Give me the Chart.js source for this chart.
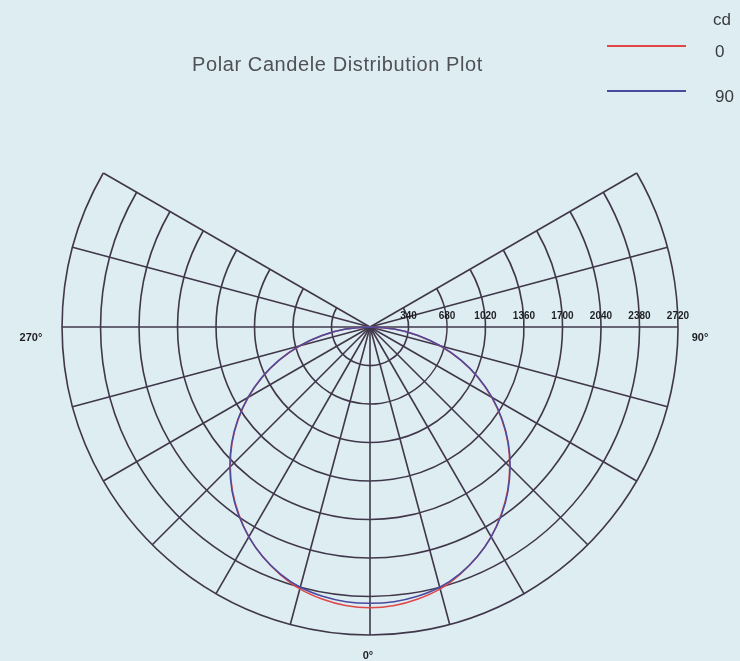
<!DOCTYPE html>
<html lang="en">
<head>
    <meta charset="UTF-8">
    <title>Polar Candele Distribution Plot</title>
    <script src="https://cdn.jsdelivr.net/npm/chart.js@4.4.1/dist/chart.umd.min.js"></script>
    <style>
        body { margin: 0; background: #ddedf2; }
        #wrap { width: 740px; height: 661px; }
    </style>
</head>
<body>
    <div id="wrap">
        <canvas id="myChart" width="740" height="661"></canvas>
    </div>
    <script>
        // gamma angles (deg from nadir) and candela values
        var v_angles = [0, 5, 10, 15, 20, 25, 30, 35, 40, 45, 50, 55, 60, 65, 70, 75, 80, 85, 90];
        var v_cd0  = [2480, 2470, 2440, 2395, 2325, 2240, 2140, 2020, 1890, 1745, 1590, 1420, 1240, 1050, 850, 640, 430, 215, 0];
        var v_cd90 = [2440, 2435, 2415, 2380, 2320, 2240, 2140, 2025, 1895, 1750, 1595, 1425, 1245, 1055, 855, 645, 430, 215, 0];

        // grid
        var v_rings = [340, 680, 1020, 1360, 1700, 2040, 2380, 2720];
        var v_ringLabels = ["340", "680", "1020", "1360", "1700", "2040", "2380", "2720"];
        var v_spokes = [-120, -105, -90, -75, -60, -45, -30, -15, 0, 15, 30, 45, 60, 75, 90, 105, 120];
        var v_axisLabels = ["270°", "90°", "0°"];

        var v_title = "Polar Candele Distribution Plot";
        var v_legend = [{ t: "0", c: "#e04848" }, { t: "90", c: "#4a4a9e" }];

        // polar -> x/y in cd units (other side mirrored)
        var f_points = function(p_vals){
            var v_pts = [];
            for(var i = v_angles.length - 1; i > 0; i--){
                var a = -v_angles[i] * Math.PI / 180;
                v_pts.push({ x: p_vals[i] * Math.sin(a), y: -p_vals[i] * Math.cos(a) });
            }
            for(var j = 0; j < v_angles.length; j++){
                var b = v_angles[j] * Math.PI / 180;
                v_pts.push({ x: p_vals[j] * Math.sin(b), y: -p_vals[j] * Math.cos(b) });
            }
            return v_pts;
        };

        var gridPlugin = {
            id: "polarGrid",
            beforeDraw: function(chart){
                var ctx = chart.ctx;
                ctx.save();
                ctx.fillStyle = "#ddedf2";
                ctx.fillRect(0, 0, chart.width, chart.height);
                ctx.restore();
            },
            beforeDatasetsDraw: function(chart){
                var ctx = chart.ctx;
                var xs = chart.scales.x, ys = chart.scales.y;
                var cx = xs.getPixelForValue(0), cy = ys.getPixelForValue(0);
                var rMax = xs.getPixelForValue(v_rings[v_rings.length - 1]) - cx;
                ctx.save();
                ctx.strokeStyle = "#41374a";
                ctx.lineWidth = 1.6;
                // rings (arc between -120 and 120)
                v_rings.forEach(function(v){
                    var r = xs.getPixelForValue(v) - cx;
                    ctx.beginPath();
                    ctx.arc(cx, cy, r, -30 * Math.PI / 180, 210 * Math.PI / 180);
                    ctx.stroke();
                });
                // spokes
                v_spokes.forEach(function(a){
                    var rad = a * Math.PI / 180;
                    ctx.beginPath();
                    ctx.moveTo(cx, cy);
                    ctx.lineTo(cx + rMax * Math.sin(rad), cy + rMax * Math.cos(rad));
                    ctx.stroke();
                });
                ctx.restore();
            },
            afterDraw: function(chart){
                var ctx = chart.ctx;
                var xs = chart.scales.x, ys = chart.scales.y;
                var cx = xs.getPixelForValue(0), cy = ys.getPixelForValue(0);
                ctx.save();
                // ring values
                ctx.fillStyle = "#1e1e22";
                ctx.font = "bold 10px 'Liberation Sans Narrow', 'Liberation Sans', Arial";
                ctx.textAlign = "center";
                v_rings.forEach(function(v, i){
                    ctx.fillText(v_ringLabels[i], xs.getPixelForValue(v), cy - 8);
                });
                // angle labels
                ctx.font = "bold 11px 'Liberation Sans', Arial";
                ctx.fillText(v_axisLabels[0], 31, cy + 14);
                ctx.fillText(v_axisLabels[1], 700, cy + 14);
                ctx.fillText(v_axisLabels[2], 368, 659);
                // title
                ctx.fillStyle = "#505058";
                ctx.font = "20px 'Liberation Sans', Arial";
                ctx.letterSpacing = "0.6px";
                ctx.textAlign = "left";
                ctx.fillText(v_title, 192, 71);
                // legend
                ctx.letterSpacing = "0px";
                ctx.fillStyle = "#3a3a40";
                ctx.font = "17px 'Liberation Sans', Arial";
                ctx.fillText("cd", 713, 25);
                v_legend.forEach(function(l, i){
                    var y = 46 + i * 45;
                    ctx.strokeStyle = l.c;
                    ctx.lineWidth = 2;
                    ctx.beginPath();
                    ctx.moveTo(607, y);
                    ctx.lineTo(686, y);
                    ctx.stroke();
                    ctx.fillText(l.t, 715, y + 11);
                });
                ctx.restore();
            }
        };

        const ctx = document.getElementById('myChart').getContext('2d');
        const myChart = new Chart(ctx, {
            type: 'scatter',
            data: {
                datasets: [{
                    label: v_legend[0].t,
                    data: f_points(v_cd0),
                    showLine: true,
                    borderColor: v_legend[0].c,
                    borderWidth: 1.5,
                    pointRadius: 0,
                    tension: 0.3,
                    order: 2
                }, {
                    label: v_legend[1].t,
                    data: f_points(v_cd90),
                    showLine: true,
                    borderColor: v_legend[1].c,
                    borderWidth: 1.5,
                    pointRadius: 0,
                    tension: 0.3,
                    order: 1
                }]
            },
            options: {
                responsive: false,
                animation: false,
                layout: { padding: 0 },
                plugins: { legend: { display: false }, tooltip: { enabled: false } },
                scales: {
                    x: { type: 'linear', min: -3268, max: 3268, display: false },
                    y: { type: 'linear', min: -2950, max: 2888, display: false }
                }
            },
            plugins: [gridPlugin]
        });
    </script>
</body>
</html>
